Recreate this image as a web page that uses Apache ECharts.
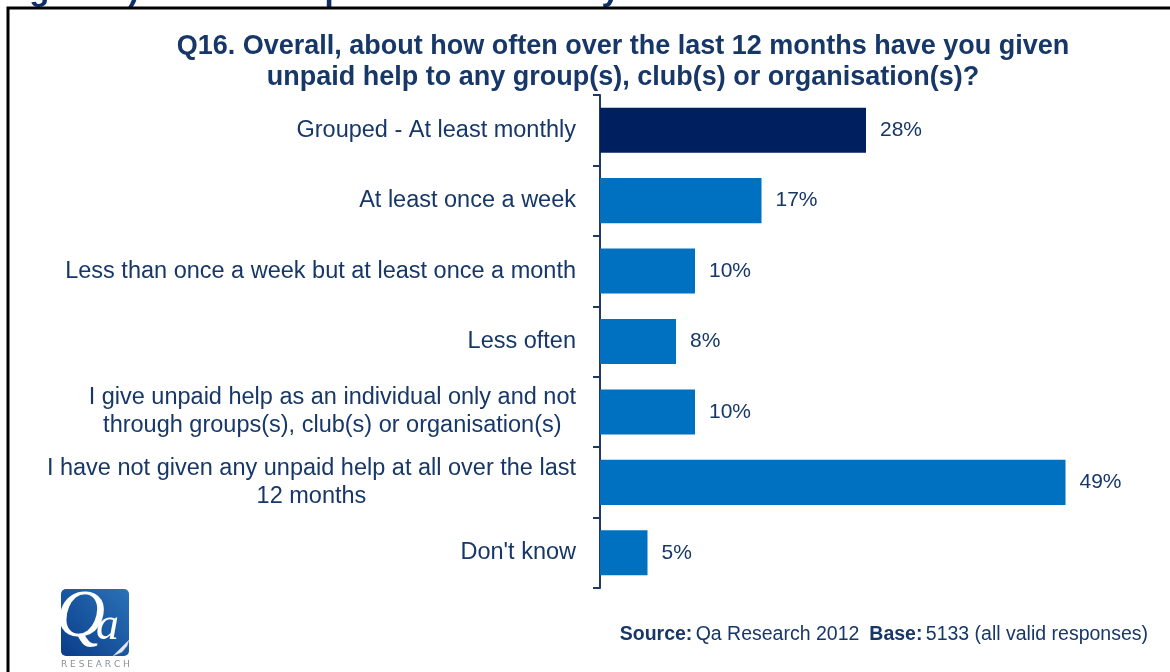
<!DOCTYPE html>
<html>
<head>
<meta charset="utf-8">
<script src="https://cdn.jsdelivr.net/npm/echarts@6/dist/echarts.min.js"></script>
<style>
  html, body { margin: 0; padding: 0; background: #ffffff; }
  #chart { width: 1170px; height: 672px; }
</style>
</head>
<body>
<div id="chart"></div>
<script>
// Survey answers, top to bottom
const categories = [
  'Grouped - At least monthly',
  'At least once a week',
  'Less than once a week but at least once a month',
  'Less often',
  'I give unpaid help as an individual only and not\nthrough groups(s), club(s) or organisation(s)',
  'I have not given any unpaid help at all over the last\n12 months',
  "Don't know"
];
// Share of respondents, percent
const values = [28, 17, 10, 8, 10, 49, 5];

const headingText = 'Figure 7):        Participation in voluntary activities';
const titleText = 'Q16. Overall, about how often over the last 12 months have you given\nunpaid help to any group(s), club(s) or organisation(s)?';

const NAVY_TEXT = '#163768';
const DARK_BAR = '#001F5F';
const LIGHT_BAR = '#0070C0';

const chart = echarts.init(document.getElementById('chart'));

chart.setOption({
  backgroundColor: '#ffffff',
  animation: false,
  title: {
    text: titleText,
    left: 618,
    textAlign: 'center',
    top: 26,
    textStyle: {
      fontFamily: 'Liberation Sans',
      fontWeight: 'bold',
      fontSize: 27,
      lineHeight: 31,
      color: NAVY_TEXT
    }
  },
  grid: {
    left: 600,
    top: 95,
    width: 475,
    bottom: 84,
    containLabel: false
  },
  xAxis: {
    type: 'value',
    min: 0,
    max: 50,
    show: false
  },
  yAxis: {
    type: 'category',
    inverse: true,
    data: categories,
    axisLine: { show: true, lineStyle: { color: '#1F3864', width: 2 } },
    axisTick: { show: true, length: 7, lineStyle: { color: '#1F3864', width: 2 } },
    axisLabel: {
      margin: 24,
      align: 'right',
      formatter: function (v) {
        return v.split('\n').map(function (s) { return '{c|' + s + '}'; }).join('\n');
      },
      rich: {
        c: {
          align: 'center',
          fontFamily: 'Liberation Sans',
          fontSize: 23.5,
          lineHeight: 28,
          color: NAVY_TEXT
        }
      }
    }
  },
  series: [{
    type: 'bar',
    data: values.map(function (v, i) {
      return { value: v, itemStyle: { color: i === 0 ? DARK_BAR : LIGHT_BAR } };
    }),
    barWidth: '64%',
    label: {
      show: true,
      position: 'right',
      distance: 14,
      formatter: '{c}%',
      fontFamily: 'Liberation Sans',
      fontSize: 21,
      color: NAVY_TEXT
    }
  }],
  graphic: [
    // figure heading running off the top edge
    {
      type: 'text',
      left: 0,
      top: -26,
      style: {
        text: headingText,
        font: 'bold 33px "Liberation Sans"',
        fill: '#0F2F66'
      }
    },
    // panel frame (only its top and left edges are in view)
    {
      type: 'rect',
      shape: { x: 8, y: 8, width: 1300, height: 800 },
      style: { fill: 'none', stroke: '#000000', lineWidth: 3 },
      silent: true
    },
    // logo tile
    {
      type: 'rect',
      shape: { x: 61, y: 589, width: 68, height: 67, r: 5 },
      style: {
        fill: new echarts.graphic.LinearGradient(1, 0, 0, 1, [
          { offset: 0, color: '#2A72B8' },
          { offset: 1, color: '#0A3C8A' }
        ])
      }
    },
    {
      type: 'polygon',
      shape: { points: [[129, 640], [113, 656], [122, 652], [127, 646]] },
      style: { fill: '#E4E8EE', stroke: '#B9C2CE', lineWidth: 0.5 }
    },
    {
      type: 'text',
      x: 56,
      y: 584,
      style: {
        text: 'Q',
        font: 'italic 68px "Liberation Serif"',
        fill: '#ffffff'
      }
    },
    {
      type: 'text',
      x: 96,
      y: 604,
      style: {
        text: 'a',
        font: 'italic 46px "Liberation Serif"',
        fill: '#ffffff'
      }
    },
    {
      type: 'text',
      x: 61,
      y: 660,
      style: {
        text: 'R E S E A R C H',
        font: '9px "DejaVu Sans"',
        fill: '#8A8F96'
      }
    },
    // source note
    {
      type: 'text',
      right: 22,
      top: 625,
      style: {
        text: '{b|Source:} {n|Qa Research 2012}   {b|Base:} {n|5133 (all valid responses)}',
        rich: {
          b: { font: 'bold 19.5px "Liberation Sans"', fill: NAVY_TEXT },
          n: { font: '19.5px "Liberation Sans"', fill: NAVY_TEXT }
        }
      }
    }
  ]
});
</script>
</body>
</html>
